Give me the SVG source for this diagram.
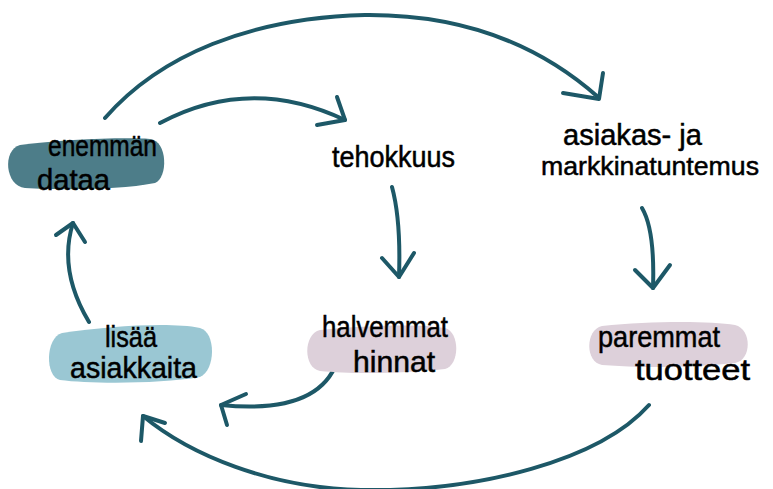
<svg xmlns="http://www.w3.org/2000/svg" width="773" height="489" viewBox="0 0 773 489">
<style>
.lbl{font-family:"Liberation Sans","DejaVu Sans",sans-serif;font-size:29px;fill:#000;stroke:#000;stroke-width:0.5;}
.arr{fill:none;stroke:#1d5867;stroke-width:4;stroke-linecap:round;stroke-linejoin:round;}
</style>
<rect width="773" height="489" fill="#ffffff"/>
<g id="connectors">
<path class="arr" d="M105,118 C160,55 250,18 365,15 C470,14 545,50 598,97"/>
<path class="arr" d="M563,93 L599,99 L603,73"/>
<path class="arr" d="M160,123 Q250,75 345,120"/>
<path class="arr" d="M317,125 L345,120 L337,97"/>
<path class="arr" d="M392,187 Q401,220 399,277"/>
<path class="arr" d="M382,258 L399,277 L414,253"/>
<path class="arr" d="M642,208 Q655,230 653,288"/>
<path class="arr" d="M635,270 L653,288 L670,265"/>
<path class="arr" d="M89,322 Q58,270 73,223"/>
<path class="arr" d="M56,235 L73,223 L85,242"/>
<path class="arr" d="M337,362 C325,395 290,412 221,405"/>
<path class="arr" d="M246,394 L221,405 L227,425"/>
<path class="arr" d="M649,405 C600,460 480,492 361,490 C270,488 190,455 143,416"/>
<path class="arr" d="M165,423 L143,416 L141,441"/>
</g>
<g id="node-dataa">
<path d="M20,145 C60,140 120,137 150,139 C168,141 168,178 155,183 C120,190 60,190 25,188 C5,186 2,150 20,145 Z" fill="#4d7d89"/>
<text class="lbl" x="48" y="156" textLength="109" lengthAdjust="spacingAndGlyphs">enemmän</text>
<text class="lbl" x="37" y="190" textLength="73" lengthAdjust="spacingAndGlyphs">dataa</text>
</g>
<g id="node-tehokkuus">
<text class="lbl" x="332" y="167" textLength="123" lengthAdjust="spacingAndGlyphs">tehokkuus</text>
</g>
<g id="node-tuntemus">
<text class="lbl" x="563" y="145" textLength="139" lengthAdjust="spacingAndGlyphs">asiakas- ja</text>
<text class="lbl" x="541" y="175" style="font-size:26.5px" textLength="218" lengthAdjust="spacingAndGlyphs">markkinatuntemus</text>
</g>
<g id="node-asiakkaita">
<path d="M62,333 C110,326 170,322 200,328 C216,332 216,370 200,377 C160,384 90,384 60,380 C45,377 45,338 62,333 Z" fill="#9ac7d3"/>
<text class="lbl" x="105" y="347" textLength="52" lengthAdjust="spacingAndGlyphs">lisää</text>
<text class="lbl" x="70" y="378" textLength="127" lengthAdjust="spacingAndGlyphs">asiakkaita</text>
</g>
<g id="node-hinnat">
<path d="M320,330 C370,325 420,324 445,328 C460,332 460,365 445,369 C400,374 350,374 320,371 C303,368 303,334 320,330 Z" fill="#ddd0da"/>
<text class="lbl" x="322" y="337" textLength="126" lengthAdjust="spacingAndGlyphs">halvemmat</text>
<text class="lbl" x="353" y="372" textLength="82" lengthAdjust="spacingAndGlyphs">hinnat</text>
</g>
<g id="node-tuotteet">
<path d="M602,326 C650,321 710,321 735,325 C752,329 752,360 735,363 C690,368 640,368 602,365 C585,362 585,330 602,326 Z" fill="#ddd0da"/>
<text class="lbl" x="598" y="347" textLength="122" lengthAdjust="spacingAndGlyphs">paremmat</text>
<text class="lbl" x="635" y="380" textLength="115" lengthAdjust="spacingAndGlyphs">tuotteet</text>
</g>
</svg>
